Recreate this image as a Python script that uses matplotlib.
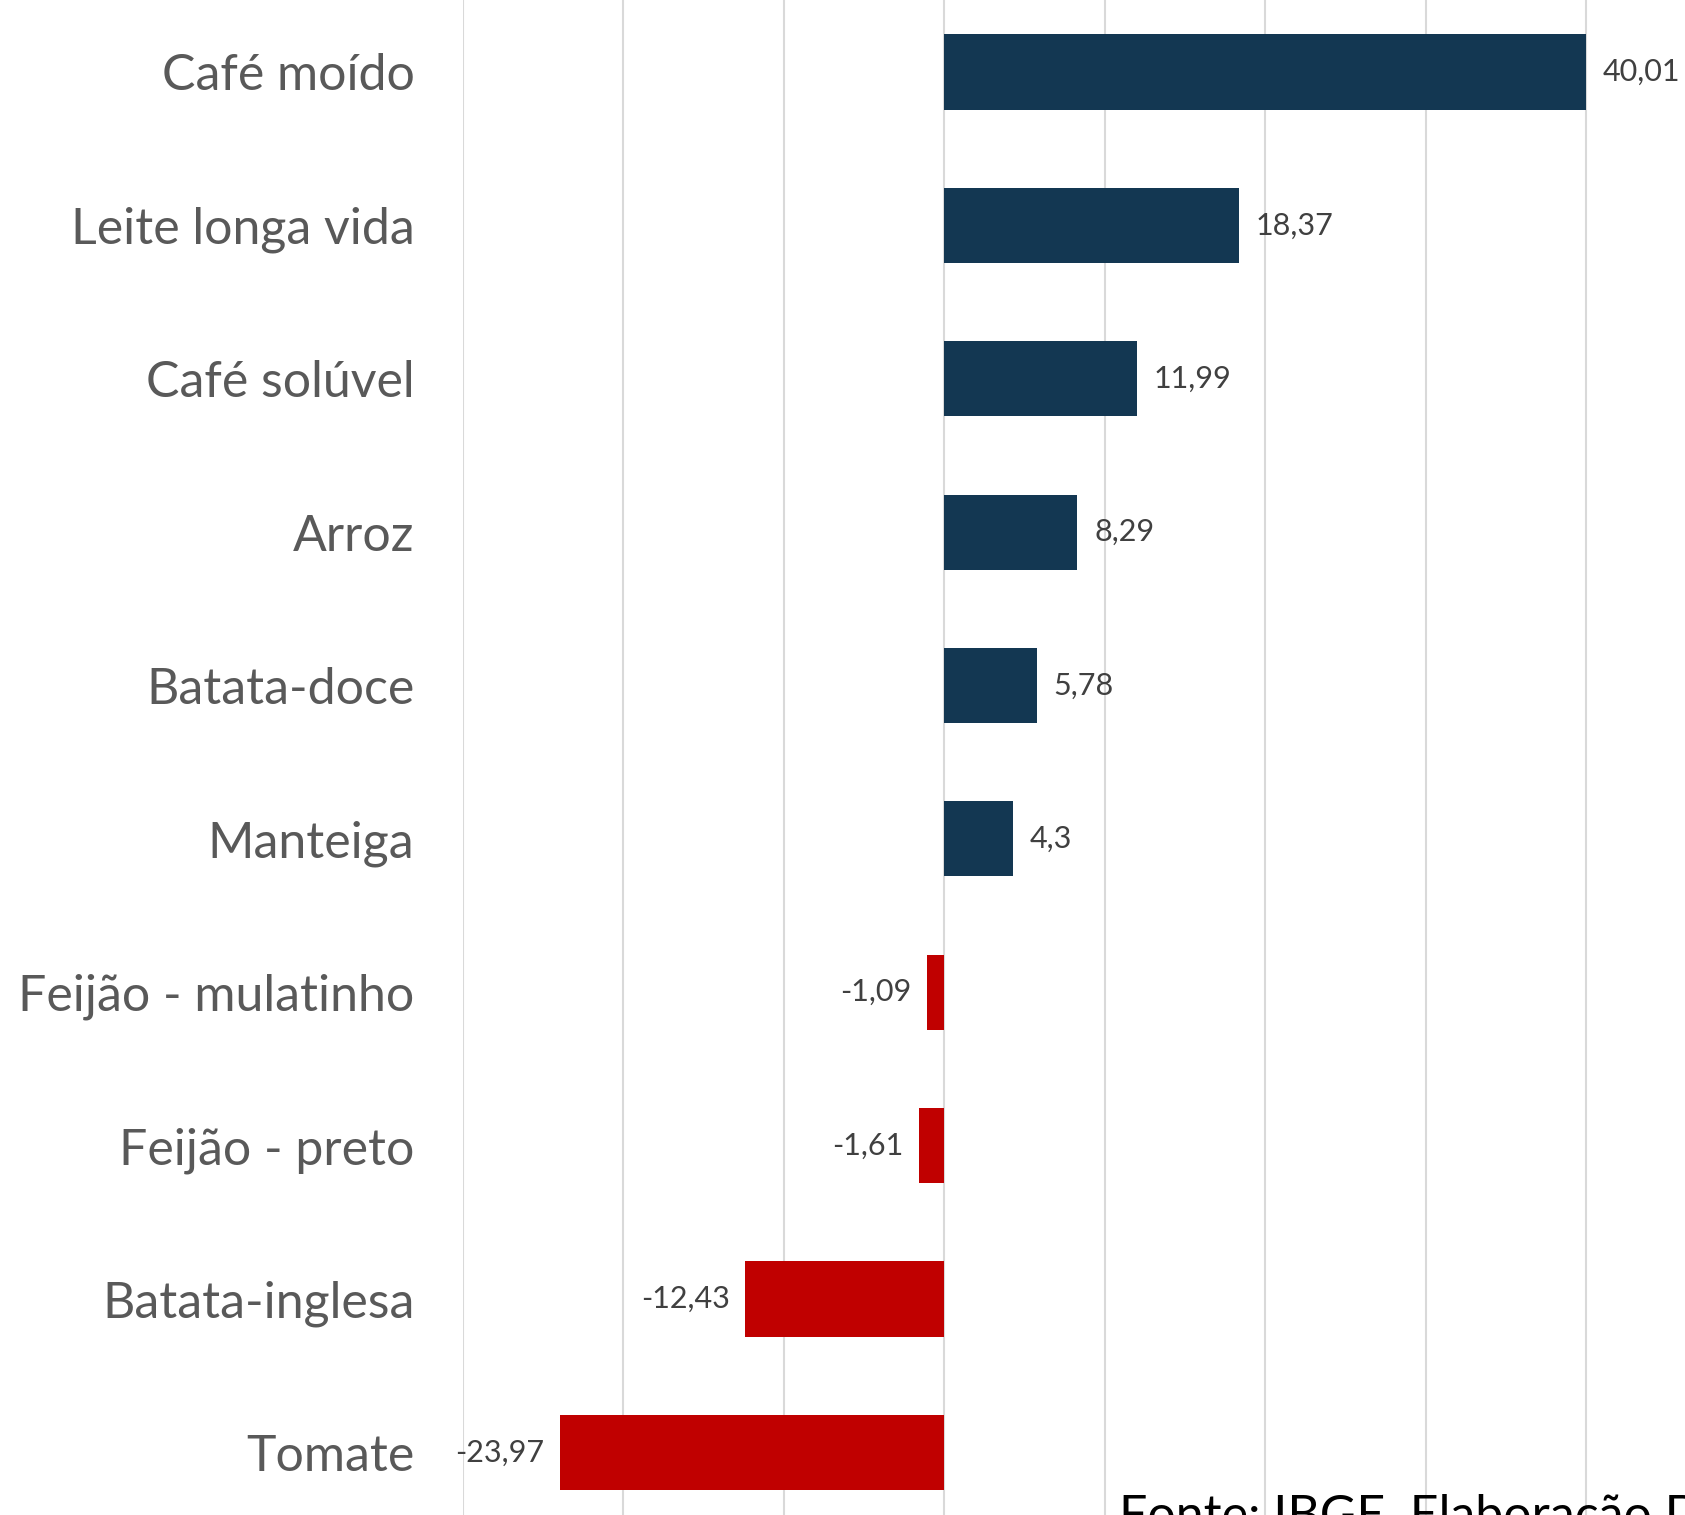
import matplotlib.pyplot as plt

# --- Data ---
categories = ["Café moído", "Leite longa vida", "Café solúvel", "Arroz", "Batata-doce",
              "Manteiga", "Feijão - mulatinho", "Feijão - preto", "Batata-inglesa", "Tomate"]
values = [40.01, 18.37, 11.99, 8.29, 5.78, 4.3, -1.09, -1.61, -12.43, -23.97]
value_labels = ["40,01", "18,37", "11,99", "8,29", "5,78", "4,3", "-1,09", "-1,61", "-12,43", "-23,97"]
x_ticks = [-30, -20, -10, 0, 10, 20, 30, 40, 50]
source_text = "Fonte: IBGE. Elaboração DIEESE"

POS_COLOR = '#133752'
NEG_COLOR = '#C00000'
FONT = ['Lato', 'DejaVu Sans']

fig = plt.figure(figsize=(16.85, 15.15), dpi=100)
ax = fig.add_axes([463 / 1685, -14 / 1515, 1283.6 / 1685, 1533.7 / 1515])

y_pos = list(range(len(categories)))
colors = [POS_COLOR if v >= 0 else NEG_COLOR for v in values]
ax.barh(y_pos, values, height=0.49, color=colors, zorder=3)

# data labels next to the bar ends
for y, v, lab in zip(y_pos, values, value_labels):
    off = 12 if v >= 0 else -11
    ha = 'left' if v >= 0 else 'right'
    ax.annotate(lab, xy=(v, y), xytext=(off, 0), textcoords='offset points',
                ha=ha, va='center', fontsize=22, color='#404040', family=FONT)

ax.set_xlim(-30, 50)
ax.set_ylim(9.5, -0.5)
ax.set_xticks(x_ticks)
ax.set_xticklabels([])
ax.tick_params(axis='x', length=0)
ax.grid(axis='x', color='#D9D9D9', linewidth=1.5, zorder=0)
ax.set_axisbelow(True)

ax.set_yticks(y_pos)
ax.set_yticklabels(categories, fontsize=36, color='#595959', family=FONT)
ax.tick_params(axis='y', length=0, pad=35)

for s in ax.spines.values():
    s.set_visible(False)

fig.text(1119 / 1685, -16 / 1515, source_text, fontsize=36, color='black',
         family=FONT, ha='left', va='baseline')

fig.savefig('out.png', dpi=100)
